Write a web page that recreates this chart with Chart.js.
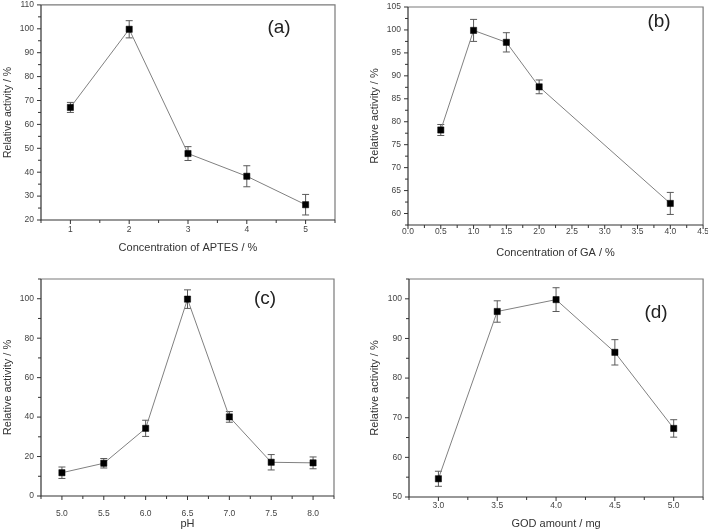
<!DOCTYPE html>
<html>
<head>
<meta charset="utf-8">
<script src="https://cdn.jsdelivr.net/npm/chart.js@4.4.1/dist/chart.umd.min.js"></script>
<style>
html,body{margin:0;padding:0;background:#fff;}
#wrap{position:relative;width:708px;height:532px;overflow:hidden;background:#fff;}
canvas{position:absolute;display:block;}
</style>
</head>
<body>
<div id="wrap">
  <canvas id="cA" width="354" height="266" style="left:0;top:0"></canvas>
  <canvas id="cB" width="354" height="266" style="left:354px;top:0"></canvas>
  <canvas id="cC" width="354" height="266" style="left:0;top:266px"></canvas>
  <canvas id="cD" width="354" height="266" style="left:354px;top:266px"></canvas>
</div>
<script>
// ---------- DATA ----------
// (a) Concentration of APTES
const aptesConc     = [1, 2, 3, 4, 5];
const aptesActivity = [67.1, 99.8, 47.8, 38.3, 26.4];
const aptesError    = [2.1, 3.6, 2.9, 4.4, 4.3];
const aptesXTicks   = [1, 2, 3, 4, 5];
const aptesYTicks   = [20, 30, 40, 50, 60, 70, 80, 90, 100, 110];

// (b) Concentration of GA
const gaConc     = [0.5, 1.0, 1.5, 2.0, 4.0];
const gaActivity = [78.2, 99.9, 97.3, 87.6, 62.2];
const gaError    = [1.2, 2.4, 2.1, 1.5, 2.4];
const gaXTicks   = [0.0, 0.5, 1.0, 1.5, 2.0, 2.5, 3.0, 3.5, 4.0, 4.5];
const gaYTicks   = [60, 65, 70, 75, 80, 85, 90, 95, 100, 105];

// (c) pH
const phValues   = [5.0, 5.5, 6.0, 6.5, 7.0, 7.5, 8.0];
const phActivity = [11.8, 16.6, 34.3, 99.8, 40.1, 17.1, 16.8];
const phError    = [2.9, 2.4, 4.1, 4.7, 2.7, 3.9, 3.0];
const phXTicks   = [5.0, 5.5, 6.0, 6.5, 7.0, 7.5, 8.0];
const phYTicks   = [0, 20, 40, 60, 80, 100];

// (d) GOD amount
const godAmount   = [3.0, 3.5, 4.0, 4.5, 5.0];
const godActivity = [54.6, 96.8, 99.8, 86.5, 67.3];
const godError    = [1.9, 2.7, 3.0, 3.2, 2.2];
const godXTicks   = [3.0, 3.5, 4.0, 4.5, 5.0];
const godYTicks   = [50, 60, 70, 80, 90, 100];

const FONT = "'Liberation Sans', Arial, Helvetica, sans-serif";

function makePanel(canvasId, xs, ys, errs, xTicks, yTicks, cfg) {
  const points = xs.map((x, i) => ({x: x, y: ys[i]}));
  const near = (a, b) => Math.abs(a - b) < 1e-6;

  const panelPlugin = {
    id: 'panel_' + canvasId,
    beforeDatasetsDraw(chart) {
      const {ctx, scales: {x, y}} = chart;
      ctx.save();
      ctx.strokeStyle = '#5a5a5a';
      ctx.lineWidth = 1;
      points.forEach((p, i) => {
        const px = x.getPixelForValue(p.x);
        const top = y.getPixelForValue(p.y + errs[i]);
        const bot = y.getPixelForValue(p.y - errs[i]);
        ctx.beginPath();
        ctx.moveTo(px, top); ctx.lineTo(px, bot);
        ctx.moveTo(px - 3.5, top); ctx.lineTo(px + 3.5, top);
        ctx.moveTo(px - 3.5, bot); ctx.lineTo(px + 3.5, bot);
        ctx.stroke();
      });
      ctx.restore();
    },
    afterDraw(chart) {
      const {ctx, chartArea: a, scales: {x, y}} = chart;
      ctx.save();
      // frame
      ctx.lineWidth = 1.2;
      ctx.strokeStyle = '#7a7a7a';
      ctx.beginPath();
      ctx.moveTo(a.left, a.top); ctx.lineTo(a.right, a.top); ctx.lineTo(a.right, a.bottom);
      ctx.stroke();
      ctx.strokeStyle = '#333';
      ctx.beginPath();
      ctx.moveTo(a.left, a.top); ctx.lineTo(a.left, a.bottom); ctx.lineTo(a.right, a.bottom);
      ctx.stroke();
      // ticks (major + minor), outward
      ctx.lineWidth = 1;
      ctx.beginPath();
      for (let v = cfg.xMin; v <= cfg.xMax + 1e-9; v += cfg.xMinor) {
        const isMajor = xTicks.some(t => near(t, v));
        const px = x.getPixelForValue(v);
        ctx.moveTo(px, a.bottom); ctx.lineTo(px, a.bottom + (isMajor ? 4 : 3));
      }
      for (let v = cfg.yMin; v <= cfg.yMax + 1e-9; v += cfg.yMinor) {
        const isMajor = yTicks.some(t => near(t, v));
        const py = y.getPixelForValue(v);
        ctx.moveTo(a.left, py); ctx.lineTo(a.left - (isMajor ? 4 : 3), py);
      }
      ctx.stroke();
      // panel letter
      ctx.fillStyle = '#222';
      ctx.font = '19px ' + FONT;
      ctx.textAlign = 'center';
      ctx.textBaseline = 'middle';
      ctx.fillText(cfg.letter, cfg.letterX, cfg.letterY);
      ctx.restore();
    }
  };

  return new Chart(document.getElementById(canvasId), {
    type: 'scatter',
    data: {
      datasets: [{
        data: points,
        showLine: true,
        borderColor: '#808080',
        borderWidth: 1,
        pointStyle: 'rect',
        pointRadius: 4.4,
        pointBackgroundColor: '#000',
        pointBorderColor: '#000',
        pointBorderWidth: 0.5,
        tension: 0
      }]
    },
    options: {
      responsive: false,
      animation: false,
      events: [],
      layout: {padding: {left: 0, top: cfg.padTop, right: cfg.padRight, bottom: 0}},
      plugins: {legend: {display: false}, tooltip: {enabled: false}},
      scales: {
        x: {
          type: 'linear',
          min: cfg.xMin, max: cfg.xMax,
          afterBuildTicks: s => { s.ticks = xTicks.map(v => ({value: v})); },
          afterFit: s => { s.height = cfg.xH; s.paddingLeft = 0; s.paddingRight = 0; },
          grid: {display: false, drawTicks: false},
          border: {display: false},
          ticks: {
            autoSkip: false, maxRotation: 0, padding: cfg.xLabPad,
            color: '#444', font: {family: FONT, size: 8.5},
            callback: v => v.toFixed(cfg.xDec)
          },
          title: {
            display: true, text: cfg.xTitle, color: '#333',
            font: {family: FONT, size: 11},
            padding: {top: 0, bottom: cfg.xTitlePad}
          }
        },
        y: {
          type: 'linear',
          min: cfg.yMin, max: cfg.yMax,
          afterBuildTicks: s => { s.ticks = yTicks.map(v => ({value: v})); },
          afterFit: s => { s.width = cfg.yW; s.paddingTop = 0; s.paddingBottom = 0; },
          grid: {display: false, drawTicks: false},
          border: {display: false},
          ticks: {
            autoSkip: false, padding: 7,
            color: '#444', font: {family: FONT, size: 8.5},
            callback: v => String(v)
          },
          title: {
            display: true, text: 'Relative activity / %', color: '#333',
            font: {family: FONT, size: cfg.yTitleSize},
            padding: {top: cfg.yTitlePad, bottom: 0}
          }
        }
      }
    },
    plugins: [panelPlugin]
  });
}

makePanel('cA', aptesConc, aptesActivity, aptesError, aptesXTicks, aptesYTicks, {
  xMin: 0.5, xMax: 5.5, xMinor: 0.5, xDec: 0,
  yMin: 20, yMax: 110, yMinor: 5,
  padTop: 2, padRight: 19, yW: 41, xH: 46,
  xLabPad: 4.6, xTitlePad: 11.4, yTitlePad: 1.8, yTitleSize: 10.5,
  xTitle: 'Concentration of APTES / %',
  letter: '(a)', letterX: 279, letterY: 28
});

makePanel('cB', gaConc, gaActivity, gaError, gaXTicks, gaYTicks, {
  xMin: 0, xMax: 4.5, xMinor: 0.25, xDec: 1,
  yMin: 57.5, yMax: 105, yMinor: 2.5,
  padTop: 7, padRight: 4, yW: 54, xH: 41,
  xLabPad: 1.5, xTitlePad: 6.4, yTitlePad: 14.7, yTitleSize: 11,
  xTitle: 'Concentration of GA / %',
  letter: '(b)', letterX: 305, letterY: 22
});

makePanel('cC', phValues, phActivity, phError, phXTicks, phYTicks, {
  xMin: 4.75, xMax: 8.25, xMinor: 0.25, xDec: 1,
  yMin: 0, yMax: 110, yMinor: 10,
  padTop: 13, padRight: 20, yW: 41, xH: 36,
  xLabPad: 12.6, xTitlePad: 1.2, yTitlePad: 1.4, yTitleSize: 11,
  xTitle: 'pH',
  letter: '(c)', letterX: 265, letterY: 33
});

makePanel('cD', godAmount, godActivity, godError, godXTicks, godYTicks, {
  xMin: 2.75, xMax: 5.25, xMinor: 0.25, xDec: 1,
  yMin: 50, yMax: 105, yMinor: 5,
  padTop: 13, padRight: 4, yW: 55, xH: 35,
  xLabPad: 3.2, xTitlePad: 1.4, yTitlePad: 14.7, yTitleSize: 11,
  xTitle: 'GOD amount / mg',
  letter: '(d)', letterX: 302, letterY: 47
});
</script>
</body>
</html>
